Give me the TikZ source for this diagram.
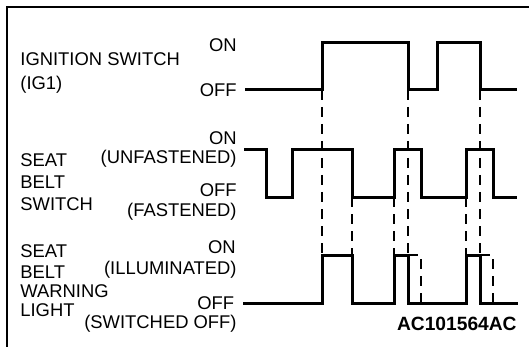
\documentclass[tikz,border=0pt]{standalone}
\usepackage{fontspec}
\setmainfont{Liberation Sans}
\begin{document}
\begin{tikzpicture}[x=0.5pt,y=-0.5pt,
  lbl/.style={inner sep=0pt, font=\fontsize{9.2}{11}\selectfont},
  lw/.style={lbl, anchor=base west},
  le/.style={lbl, anchor=base east},
  wave/.style={line width=1.5pt, line join=miter},
  guide/.style={line width=0.9pt, dash pattern=on 5pt off 3.5pt},
  frameline/.style={line width=1pt}]
\useasboundingbox (0,0) rectangle (529,347);
\draw[frameline] (7,347) -- (7,7) -- (529,7);

% labels: ignition switch
\node[lw] (igA) at (20,65.7) {IGNITION SWITCH};
\node[lw] (igB) at (20,90) {(IG1)};
\node[le] (igOn) at (237,51.7) {ON};
\node[le] (igOff) at (237,96.5) {OFF};

% labels: seat belt switch
\node[lw] (sbA) at (20,166.7) {SEAT};
\node[lw] (sbB) at (20,188.3) {BELT};
\node[lw] (sbC) at (20,210) {SWITCH};
\node[le] (sbOn) at (237,145) {ON};
\node[le] (sbOnB) at (237,163) {(UNFASTENED)};
\node[le] (sbOff) at (237,196.7) {OFF};
\node[le] (sbOffB) at (237,216) {(FASTENED)};

% labels: warning light
\node[lw] (wlA) at (20,257.3) {SEAT};
\node[lw] (wlB) at (20,278.5) {BELT};
\node[lw] (wlC) at (20,297) {WARNING};
\node[lw] (wlD) at (20,316.7) {LIGHT};
\node[le] (wlOn) at (236,253.3) {ON};
\node[le] (wlOnB) at (237,274.5) {(ILLUMINATED)};
\node[le] (wlOff) at (234.5,309) {OFF};
\node[le] (wlOffB) at (237,328) {(SWITCHED OFF)};

\node[inner sep=0pt, anchor=base east, font=\bfseries\fontsize{9.6}{11}\selectfont] (code) at (517,330) {AC101564AC};

% waveforms
\draw[wave] (245,90) -- (322,90) -- (322,42.3) -- (408,42.3) -- (408,90) -- (437,90)
  -- (437,42.3) -- (480,42.3) -- (480,90) -- (517,90);
\draw[wave] (244,149.3) -- (266,149.3) -- (266,197.3) -- (292,197.3) -- (292,149.3)
  -- (352,149.3) -- (352,197.3) -- (394,197.3) -- (394,149.3) -- (421,149.3)
  -- (421,197.3) -- (466,197.3) -- (466,149.3) -- (493,149.3) -- (493,197.3) -- (517,197.3);
\draw[wave] (243,303.3) -- (322,303.3) -- (322,255) -- (352,255) -- (352,303.3)
  -- (394,303.3) -- (394,255) -- (408,255) -- (408,303.3) -- (466,303.3)
  -- (466,255) -- (480,255) -- (480,303.3) -- (518,303.3);

% dashed continuations of the warning light
\draw[guide] (408,255) -- (421,255) -- (421,303.3);
\draw[guide] (480,255) -- (493,255) -- (493,303.3);

% dashed guide lines
\foreach \t in {322,408,480} \draw[guide] (\t,90) -- (\t,255);
\foreach \t in {352,394,466} \draw[guide] (\t,197.3) -- (\t,255);
\end{tikzpicture}
\end{document}
